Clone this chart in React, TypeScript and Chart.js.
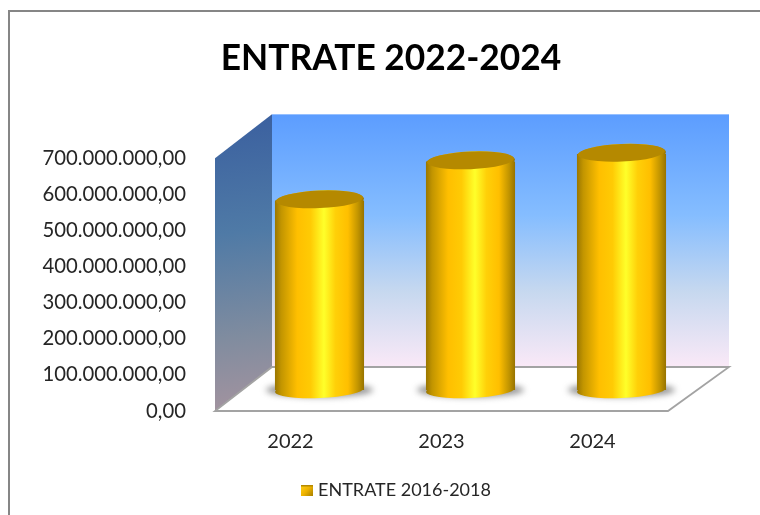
import React, { useEffect, useRef } from "react";
import { Chart, registerables } from "chart.js";

Chart.register(...registerables);

const categories = ["2022", "2023", "2024"];
const seriesName = "ENTRATE 2016-2018";
const values = [525000000, 633000000, 654000000];
const chartTitle = "ENTRATE 2022-2024";
const axisMax = 700000000;
const axisStep = 100000000;

const FONT = "Lato, Carlito, Calibri, sans-serif";
const TEXT = "#262626";
const DEPTH_X = 57;
const DEPTH_Y = 44;
const BAR_DX = 29;
const BAR_DY = 21;
const BAR_PCT = 0.59;
const TILT = (-2.5 * Math.PI) / 180;

function sideGradient(ctx: CanvasRenderingContext2D, x0: number, x1: number) {
  const g = ctx.createLinearGradient(x0, 0, x1, 0);
  g.addColorStop(0, "#9a7600");
  g.addColorStop(0.07, "#c29500");
  g.addColorStop(0.25, "#ffbf00");
  g.addColorStop(0.4, "#ffcb04");
  g.addColorStop(0.55, "#ffff2a");
  g.addColorStop(0.68, "#ffd008");
  g.addColorStop(0.82, "#ffbf00");
  g.addColorStop(0.93, "#c29500");
  g.addColorStop(1, "#977300");
  return g;
}

function formatTick(v: number) {
  const s = Math.round(v).toString().replace(/\B(?=(\d{3})+(?!\d))/g, ".");
  return s + ",00";
}

function legendIcon() {
  const c = document.createElement("canvas");
  c.width = 12;
  c.height = 11;
  const x = c.getContext("2d")!;
  const g = x.createLinearGradient(0, 0, 12, 11);
  g.addColorStop(0, "#ffd21a");
  g.addColorStop(0.5, "#f0b400");
  g.addColorStop(1, "#a98000");
  x.fillStyle = g;
  x.fillRect(0, 0, 12, 11);
  x.fillStyle = "#b58900";
  x.fillRect(0, 0, 12, 2);
  return c;
}

const scene = {
  id: "scene",
  afterLayout(chart: any) {
    if (chart.titleBlock) {
      chart.titleBlock.left += 57;
      chart.titleBlock.right += 57;
    }
    if (chart.legend) {
      chart.legend.left += 64;
      chart.legend.right += 64;
    }
  },
  beforeDraw(chart: any) {
    const { ctx, width, height } = chart;
    ctx.save();
    ctx.fillStyle = "#ffffff";
    ctx.fillRect(0, 0, width, height);
    ctx.strokeStyle = "#868686";
    ctx.lineWidth = 2;
    ctx.beginPath();
    ctx.moveTo(9, height);
    ctx.lineTo(9, 11);
    ctx.lineTo(width, 11);
    ctx.stroke();
    ctx.restore();
  },
  beforeDatasetsDraw(chart: any) {
    const { ctx, chartArea: a } = chart;
    const { left: l, right: r, top: t, bottom: b } = a;
    ctx.save();
    const back = ctx.createLinearGradient(0, t - DEPTH_Y, 0, b - DEPTH_Y);
    back.addColorStop(0, "#5c9dff");
    back.addColorStop(0.4, "#85bdff");
    back.addColorStop(0.7, "#c6d8ef");
    back.addColorStop(1, "#fae9f7");
    ctx.fillStyle = back;
    ctx.fillRect(l + DEPTH_X, t - DEPTH_Y, r - l + 4, b - t);

    const side = ctx.createLinearGradient(l, t - DEPTH_Y, l + DEPTH_X * 0.6, b);
    side.addColorStop(0, "#3a5f9f");
    side.addColorStop(0.4, "#4f7aa6");
    side.addColorStop(0.75, "#808c9f");
    side.addColorStop(1, "#a3939f");
    ctx.fillStyle = side;
    ctx.beginPath();
    ctx.moveTo(l, t);
    ctx.lineTo(l + DEPTH_X, t - DEPTH_Y);
    ctx.lineTo(l + DEPTH_X, b - DEPTH_Y);
    ctx.lineTo(l, b);
    ctx.closePath();
    ctx.fill();

    ctx.beginPath();
    ctx.moveTo(l, b);
    ctx.lineTo(r, b);
    ctx.lineTo(r + DEPTH_X + 4, b - DEPTH_Y);
    ctx.lineTo(l + DEPTH_X, b - DEPTH_Y);
    ctx.closePath();
    ctx.fillStyle = "#ffffff";
    ctx.fill();
    ctx.strokeStyle = "#a3a3a3";
    ctx.lineWidth = 1.8;
    ctx.stroke();
    ctx.restore();
  },
  beforeDatasetDraw(chart: any, args: any) {
    const { ctx } = chart;
    const bars = chart.getDatasetMeta(args.index).data;
    ctx.save();
    ctx.translate(BAR_DX, -BAR_DY);
    bars.forEach((bar: any) => {
      const hw = bar.width / 2;
      ctx.save();
      ctx.filter = "blur(3px)";
      ctx.fillStyle = "rgba(90,90,90,0.65)";
      ctx.beginPath();
      ctx.ellipse(bar.x, bar.base, hw + 9, 7, 0, 0, Math.PI * 2);
      ctx.fill();
      ctx.restore();
      ctx.fillStyle = sideGradient(ctx, bar.x - hw, bar.x + hw);
      ctx.beginPath();
      ctx.ellipse(bar.x, bar.base, hw, 8, TILT, 0, Math.PI * 2);
      ctx.fill();
    });
  },
  afterDatasetDraw(chart: any, args: any) {
    const { ctx } = chart;
    const bars = chart.getDatasetMeta(args.index).data;
    bars.forEach((bar: any) => {
      const hw = bar.width / 2;
      ctx.fillStyle = sideGradient(ctx, bar.x - hw, bar.x + hw);
      ctx.beginPath();
      ctx.ellipse(bar.x, bar.y, hw, 10, TILT, 0, Math.PI * 2);
      ctx.fill();
      ctx.fillStyle = "#b58900";
      ctx.beginPath();
      ctx.ellipse(bar.x, bar.y - 1.2, hw - 1, 8.8, TILT, 0, Math.PI * 2);
      ctx.fill();
    });
    ctx.restore();
  },
};

export default function App() {
  const ref = useRef<HTMLCanvasElement>(null);
  useEffect(() => {
    if (!ref.current) return;
    const chart = new Chart(ref.current, {
      type: "bar",
      data: {
        labels: categories,
        datasets: [
          {
            label: seriesName,
            data: values,
            barPercentage: BAR_PCT,
            categoryPercentage: 1,
            borderWidth: 0,
            backgroundColor: (c: any) => {
              const x = c.chart.scales.x;
              if (!x || !x.width) return "#ffc000";
              const cx = x.getPixelForTick(c.dataIndex);
              const hw = ((x.width / categories.length) * BAR_PCT) / 2;
              return sideGradient(c.chart.ctx, cx - hw, cx + hw);
            },
          },
        ],
      },
      options: {
        responsive: false,
        animation: false,
        layout: { padding: { left: 0, right: 92, top: 0, bottom: 6 } },
        plugins: {
          title: {
            display: true,
            text: chartTitle,
            color: "#000000",
            font: { family: FONT, size: 35.3, weight: "bold", lineHeight: 1.2 },
            padding: { top: 37, bottom: 79 },
          },
          legend: {
            display: true,
            position: "bottom",
            labels: {
              color: TEXT,
              font: { family: FONT, size: 18 },
              padding: 9,
              usePointStyle: true,
              pointStyle: legendIcon() as any,
              pointStyleWidth: 4,
              boxHeight: 11,
            },
          },
          tooltip: { enabled: false },
        },
        scales: {
          x: {
            grid: { display: false, drawTicks: false },
            border: { display: false },
            ticks: { color: TEXT, font: { family: FONT, size: 20 }, padding: 19 },
            afterFit: (s: any) => {
              s.height = 61;
            },
          },
          y: {
            min: 0,
            max: axisMax,
            grid: { display: false, drawTicks: false },
            border: { display: false },
            ticks: {
              stepSize: axisStep,
              color: TEXT,
              font: { family: FONT, size: 20.3 },
              padding: 29,
              callback: (v: any) => formatTick(Number(v)),
            },
            afterFit: (s: any) => {
              s.width = 215;
            },
          },
        },
      },
      plugins: [scene],
    } as any);
    return () => chart.destroy();
  }, []);
  return (
    <canvas
      ref={ref}
      width={760}
      height={515}
      style={{ position: "absolute", left: 0, top: 0, display: "block" }}
    />
  );
}
